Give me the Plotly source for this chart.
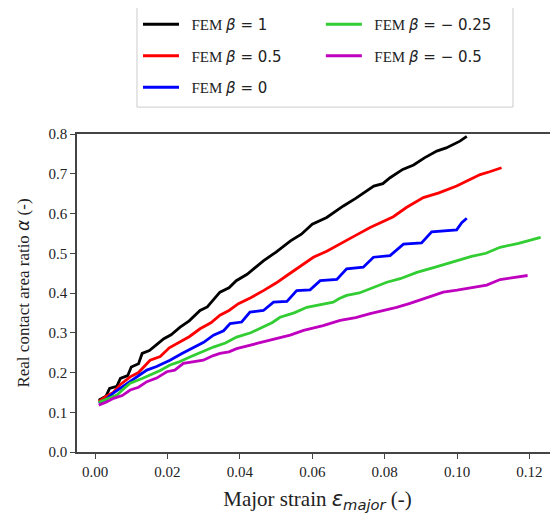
import plotly.graph_objects as go

# ---- data ----
beta_labels = ["1", "0.5", "0", "\u2212 0.25", "\u2212 0.5"]
colors = ["#000000", "#ff0000", "#0000ff", "#32cd32", "#bf00bf"]

x_b1 = [0.001, 0.003, 0.004, 0.006, 0.007, 0.009, 0.010, 0.012, 0.013, 0.015, 0.017, 0.019, 0.021,
        0.0235, 0.026, 0.029, 0.031, 0.0345, 0.037, 0.039, 0.042, 0.0465, 0.050, 0.054, 0.057, 0.060,
        0.064, 0.0686, 0.072, 0.077, 0.0795, 0.0815, 0.085, 0.088, 0.091, 0.0944, 0.097, 0.1008, 0.1027]
y_b1 = [0.130, 0.140, 0.160, 0.165, 0.185, 0.192, 0.214, 0.222, 0.248, 0.255, 0.270, 0.285, 0.295,
        0.314, 0.330, 0.356, 0.365, 0.402, 0.413, 0.431, 0.447, 0.481, 0.503, 0.531, 0.548, 0.573,
        0.590, 0.619, 0.638, 0.669, 0.675, 0.690, 0.711, 0.722, 0.740, 0.757, 0.765, 0.782, 0.794]

x_b05 = [0.001, 0.003, 0.005, 0.007, 0.0097, 0.012, 0.0152, 0.018, 0.0205, 0.0235, 0.026, 0.029, 0.032,
         0.0345, 0.037, 0.0396, 0.043, 0.0465, 0.050, 0.053, 0.0565, 0.0603, 0.064, 0.0686, 0.072, 0.076,
         0.079, 0.0824, 0.086, 0.0907, 0.095, 0.0999, 0.103, 0.1064, 0.109, 0.1123]
y_b05 = [0.127, 0.140, 0.150, 0.170, 0.189, 0.200, 0.231, 0.240, 0.262, 0.277, 0.290, 0.310, 0.325,
         0.344, 0.356, 0.373, 0.388, 0.406, 0.425, 0.444, 0.465, 0.490, 0.505, 0.527, 0.545, 0.565,
         0.578, 0.592, 0.615, 0.640, 0.652, 0.669, 0.683, 0.698, 0.705, 0.715]

x_b0 = [0.001, 0.003, 0.005, 0.0069, 0.009, 0.0115, 0.0143, 0.017, 0.0207, 0.024, 0.0272, 0.030, 0.0327,
        0.0355, 0.0373, 0.0405, 0.0428, 0.0465, 0.0493, 0.053, 0.0557, 0.0594, 0.0622, 0.0668, 0.0695,
        0.0741, 0.0769, 0.0815, 0.0852, 0.0902, 0.093, 0.0999, 0.1013, 0.1027]
y_b0 = [0.123, 0.132, 0.148, 0.160, 0.172, 0.190, 0.206, 0.215, 0.231, 0.248, 0.264, 0.276, 0.294,
        0.305, 0.323, 0.327, 0.352, 0.356, 0.377, 0.379, 0.406, 0.408, 0.431, 0.434, 0.461,
        0.465, 0.490, 0.494, 0.523, 0.526, 0.554, 0.559, 0.577, 0.588]

x_bm025 = [0.001, 0.003, 0.006, 0.008, 0.0097, 0.013, 0.0161, 0.018, 0.0207, 0.023, 0.0262, 0.029, 0.0327,
           0.036, 0.0391, 0.043, 0.0465, 0.049, 0.0511, 0.055, 0.0585, 0.062, 0.0658, 0.0675, 0.0695, 0.073,
           0.076, 0.0806, 0.0843, 0.0889, 0.094, 0.0999, 0.104, 0.108, 0.1119, 0.117, 0.1231]
y_bm025 = [0.125, 0.132, 0.143, 0.160, 0.173, 0.185, 0.198, 0.205, 0.219, 0.226, 0.239, 0.250, 0.264,
           0.274, 0.289, 0.300, 0.314, 0.326, 0.339, 0.350, 0.364, 0.370, 0.377, 0.386, 0.394, 0.400,
           0.410, 0.427, 0.436, 0.452, 0.465, 0.481, 0.492, 0.500, 0.515, 0.525, 0.540]

x_bm05 = [0.001, 0.003, 0.0051, 0.0075, 0.0097, 0.012, 0.0143, 0.017, 0.0198, 0.022, 0.0244, 0.027, 0.0299,
          0.0325, 0.0345, 0.037, 0.0391, 0.0447, 0.049, 0.0539, 0.0576, 0.063, 0.0677, 0.072, 0.076, 0.080,
          0.0833, 0.087, 0.0907, 0.0962, 0.100, 0.104, 0.1082, 0.1119, 0.1155, 0.1195]
y_bm05 = [0.118, 0.125, 0.135, 0.142, 0.156, 0.163, 0.177, 0.186, 0.202, 0.206, 0.223, 0.226, 0.231,
          0.242, 0.248, 0.252, 0.260, 0.273, 0.282, 0.294, 0.306, 0.318, 0.331, 0.338, 0.348, 0.356,
          0.364, 0.374, 0.385, 0.402, 0.407, 0.413, 0.420, 0.434, 0.438, 0.444]

xs = [x_b1, x_b05, x_b0, x_bm025, x_bm05]
ys = [y_b1, y_b05, y_b0, y_bm025, y_bm05]
legend_ids = ["legend", "legend", "legend", "legend2", "legend2"]

x_ticks = [0.00, 0.02, 0.04, 0.06, 0.08, 0.10, 0.12]
y_ticks = [0.0, 0.1, 0.2, 0.3, 0.4, 0.5, 0.6, 0.7, 0.8]

MATH = "font-family:DejaVu Sans"

fig = go.Figure()
for i in range(5):
    name = ("&nbsp;&nbsp;FEM <span style='%s'><i>\u03b2</i> = %s</span>" % (MATH, beta_labels[i]))
    fig.add_trace(go.Scatter(
        x=xs[i], y=ys[i], mode="lines", name=name,
        line=dict(color=colors[i], width=2.8),
        legend=legend_ids[i], legendgroup="g%d" % i,
    ))

axis_common = dict(
    showgrid=False, zeroline=False, showline=True, linecolor="#444", linewidth=1.5,
    ticks="outside", ticklen=5, tickwidth=1.2, tickcolor="#444",
    tickfont=dict(family="Liberation Serif", size=15, color="#222"),
)

legend_common = dict(
    xanchor="left", yanchor="top", orientation="v", itemwidth=36,
    bgcolor="rgba(0,0,0,0)", borderwidth=0, tracegroupgap=9,
    font=dict(family="Liberation Serif", size=15, color="#222"),
)

# page has an 8px body margin, so the figure is drawn 8px in from the top-left
fig.update_layout(
    width=550, height=505,
    margin=dict(l=69, r=0, t=125, b=61),
    paper_bgcolor="white", plot_bgcolor="white",
    font=dict(family="Liberation Serif", color="#222"),
    xaxis=dict(range=[-0.005, 0.1279], tickvals=x_ticks,
               ticktext=["%.2f" % v for v in x_ticks], mirror=True,
               title=dict(text="Major strain <span style='%s;font-style:italic'>\u03b5<sub>major</sub></span> (-)" % MATH,
                          font=dict(family="Liberation Serif", size=21, color="#222")),
               **axis_common),
    yaxis=dict(range=[0, 0.8], tickvals=y_ticks,
               ticktext=["%.1f" % v for v in y_ticks],
               title=dict(text="Real contact area ratio <span style='%s;font-style:italic'>\u03b1</span> (-)" % MATH,
                          font=dict(family="Liberation Serif", size=17, color="#222")),
               **axis_common),
    legend=dict(x=0.1268, y=1.397, **legend_common),
    legend2=dict(x=0.507, y=1.397, **legend_common),
    shapes=[dict(type="rect", xref="paper", yref="paper", x0=0.1247, x1=0.9064, y0=1.0846, y1=1.398,
                 line=dict(color="#cccccc", width=1), fillcolor="rgba(255,255,255,0)")],
)

fig.write_html("out.html")
